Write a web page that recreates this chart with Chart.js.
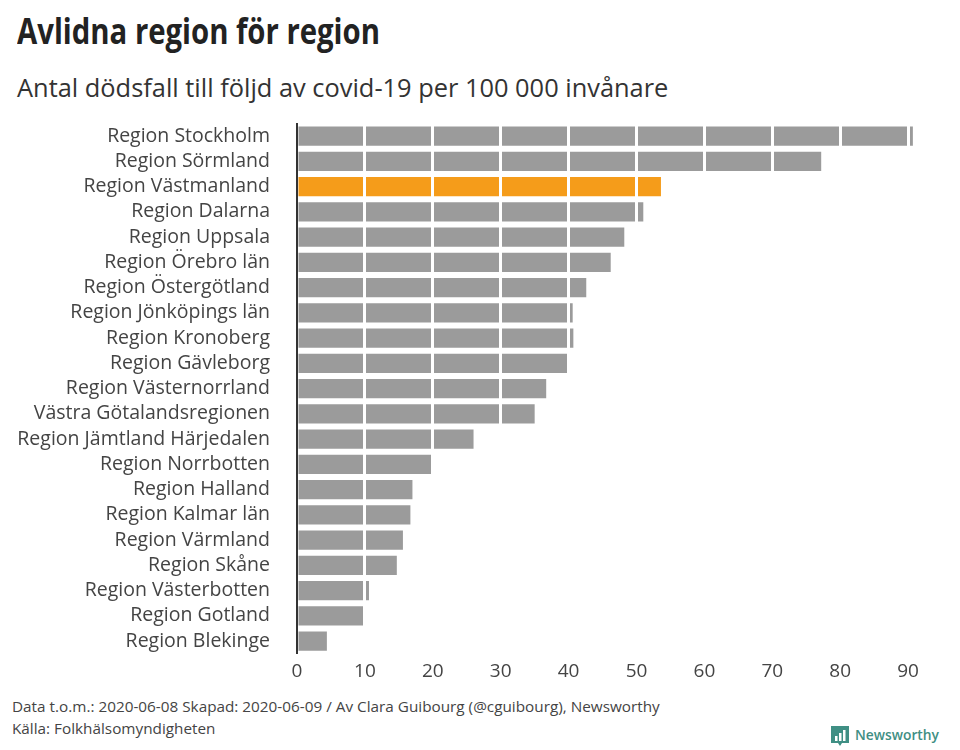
<!DOCTYPE html>
<html lang="sv">
<head>
<meta charset="utf-8">
<title>Avlidna region för region</title>
<script src="https://cdn.jsdelivr.net/npm/chart.js@4/dist/chart.umd.min.js"></script>
<style>
  html, body { margin: 0; padding: 0; background: #fff; }
  body { position: relative; width: 960px; height: 750px; overflow: hidden; font-family: "Open Sans", sans-serif; }
  .abs { position: absolute; white-space: nowrap; }
  #title { left: 17px; top: 6px; font-size: 36px; font-weight: 700; color: #222; transform: scaleX(.814); transform-origin: left top; }
  #subtitle { left: 17px; top: 70px; font-size: 25.4px; color: #333; }
  .foot { font-size: 15px; color: #444; transform: scaleX(1.02); transform-origin: left top; }
  #logoText { left: 855px; top: 725px; font-size: 13.8px; font-weight: 600; color: #3f8f84; }
  #logo { left: 831px; top: 726px; }
  canvas { position: absolute; left: 0; top: 111px; }
</style>
</head>
<body>
<div class="abs" id="title">Avlidna region för region</div>
<div class="abs" id="subtitle">Antal dödsfall till följd av covid-19 per 100 000 invånare</div>
<canvas id="deathsChart" width="960" height="580"></canvas>
<div class="abs foot" style="left:12px;top:696px">Data t.o.m.: 2020-06-08 Skapad: 2020-06-09 / Av Clara Guibourg (@cguibourg), Newsworthy</div>
<div class="abs foot" style="left:12px;top:718px">Källa: Folkhälsomyndigheten</div>
<svg class="abs" id="logo" width="18" height="21" viewBox="0 0 18 21">
  <path d="M0 0H18V17H11L9 20L7 17H0Z" fill="#3f8f84"/>
  <rect x="4" y="10" width="2.5" height="5" fill="#fff"/>
  <rect x="8" y="7" width="2.5" height="8" fill="#fff"/>
  <rect x="12" y="4" width="2.5" height="11" fill="#fff"/>
</svg>
<div class="abs" id="logoText">Newsworthy</div>
<script>
const rows = [
  ['Region Stockholm', 90.7],
  ['Region Sörmland', 77.2],
  ['Region Västmanland', 53.6],
  ['Region Dalarna', 51],
  ['Region Uppsala', 48.2],
  ['Region Örebro län', 46.2],
  ['Region Östergötland', 42.6],
  ['Region Jönköpings län', 40.6],
  ['Region Kronoberg', 40.7],
  ['Region Gävleborg', 39.8],
  ['Region Västernorrland', 36.7],
  ['Västra Götalandsregionen', 35],
  ['Region Jämtland Härjedalen', 26],
  ['Region Norrbotten', 19.8],
  ['Region Halland', 17],
  ['Region Kalmar län', 16.7],
  ['Region Värmland', 15.6],
  ['Region Skåne', 14.7],
  ['Region Västerbotten', 10.6],
  ['Region Gotland', 9.8],
  ['Region Blekinge', 4.4]
];
const GREY = '#9b9b9b';
const ORANGE = '#f59c1a';

const ctx = document.getElementById('deathsChart').getContext('2d');
new Chart(ctx, {
  type: 'bar',
  data: {
    labels: rows.map(r => r[0]),
    datasets: [{
      data: rows.map(r => r[1]),
      backgroundColor: rows.map(r => r[0] === 'Region Västmanland' ? ORANGE : GREY),
      categoryPercentage: 1,
      barPercentage: 0.76
    }]
  },
  options: {
    indexAxis: 'y',
    responsive: false,
    animation: false,
    layout: { padding: { top: 12.5, right: 38.3 } },
    plugins: { legend: { display: false }, tooltip: { enabled: false } },
    scales: {
      x: {
        min: 0,
        max: 92,
        border: { display: false },
        // white lines cut through the bars
        grid: {
          z: 1,
          lineWidth: 3,
          drawTicks: false,
          color: c => c.tick.value === 0 ? 'rgba(0,0,0,0)' : '#fff'
        },
        ticks: {
          stepSize: 10,
          includeBounds: false,
          maxRotation: 0,
          padding: 6,
          color: '#444',
          font: { family: 'Open Sans', size: 19 }
        },
        afterFit: s => { s.height = 37.3; }
      },
      y: {
        border: { color: '#333', width: 2, z: 2 },
        grid: { display: false, drawTicks: false },
        ticks: {
          autoSkip: false,
          padding: 27,
          color: '#444',
          font: { family: 'Open Sans', size: 19.5 }
        },
        // tick padding also pushes the plot top down, so clear it here
        afterFit: s => { s.width = 297; s.paddingTop = 0; s.paddingBottom = 0; }
      }
    }
  }
});
</script>
</body>
</html>
